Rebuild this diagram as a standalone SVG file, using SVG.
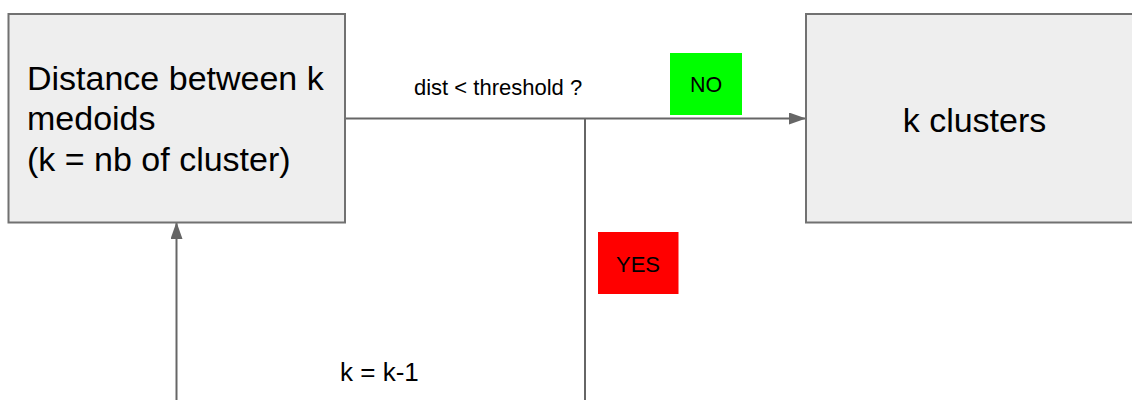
<svg xmlns="http://www.w3.org/2000/svg" width="1132" height="400" viewBox="0 0 1132 400">
<style>
.box{fill:#eeeeee;stroke:#717171;stroke-width:2}
.t{font-family:"Liberation Sans",Arial,sans-serif;fill:#000}
.con{stroke:#666666;stroke-width:2;fill:none}
</style>
<defs>
<marker id="arr" viewBox="0 0 17 12" refX="16" refY="6" markerWidth="17" markerHeight="12" markerUnits="userSpaceOnUse" orient="auto">
<path d="M0,0 L17,6 L0,12 Z" fill="#666666"/>
</marker>
</defs>
<rect width="1132" height="400" fill="#ffffff"/>
<g id="connectors">
<line class="con" x1="345" y1="118.5" x2="805" y2="118.5" marker-end="url(#arr)"/>
<line class="con" x1="585" y1="118.5" x2="585" y2="400"/>
<line class="con" x1="176.5" y1="400" x2="176.5" y2="223" marker-end="url(#arr)"/>
</g>
<g id="node-distance">
<rect class="box" x="8.5" y="14" width="336.5" height="208.5"/>
<text class="t" font-size="34" x="27" y="90">Distance between k</text>
<text class="t" font-size="34" x="27" y="130">medoids</text>
<text class="t" font-size="34" x="27" y="171">(k = nb of cluster)</text>
</g>
<g id="node-clusters">
<rect class="box" x="806" y="14" width="340" height="208.5"/>
<text class="t" font-size="34" x="974.5" y="131.5" text-anchor="middle">k clusters</text>
</g>
<g id="label-question">
<text class="t" font-size="22" x="414" y="95">dist &lt; threshold ?</text>
</g>
<g id="label-no">
<rect x="670" y="53" width="72" height="62" fill="#00ff00"/>
<text class="t" font-size="21.5" x="706" y="92" text-anchor="middle">NO</text>
</g>
<g id="label-yes">
<rect x="598" y="232" width="80.5" height="62" fill="#ff0000"/>
<text class="t" font-size="22" x="638" y="272" text-anchor="middle">YES</text>
</g>
<g id="label-k">
<text class="t" font-size="26" x="340" y="381">k = k-1</text>
</g>
</svg>
